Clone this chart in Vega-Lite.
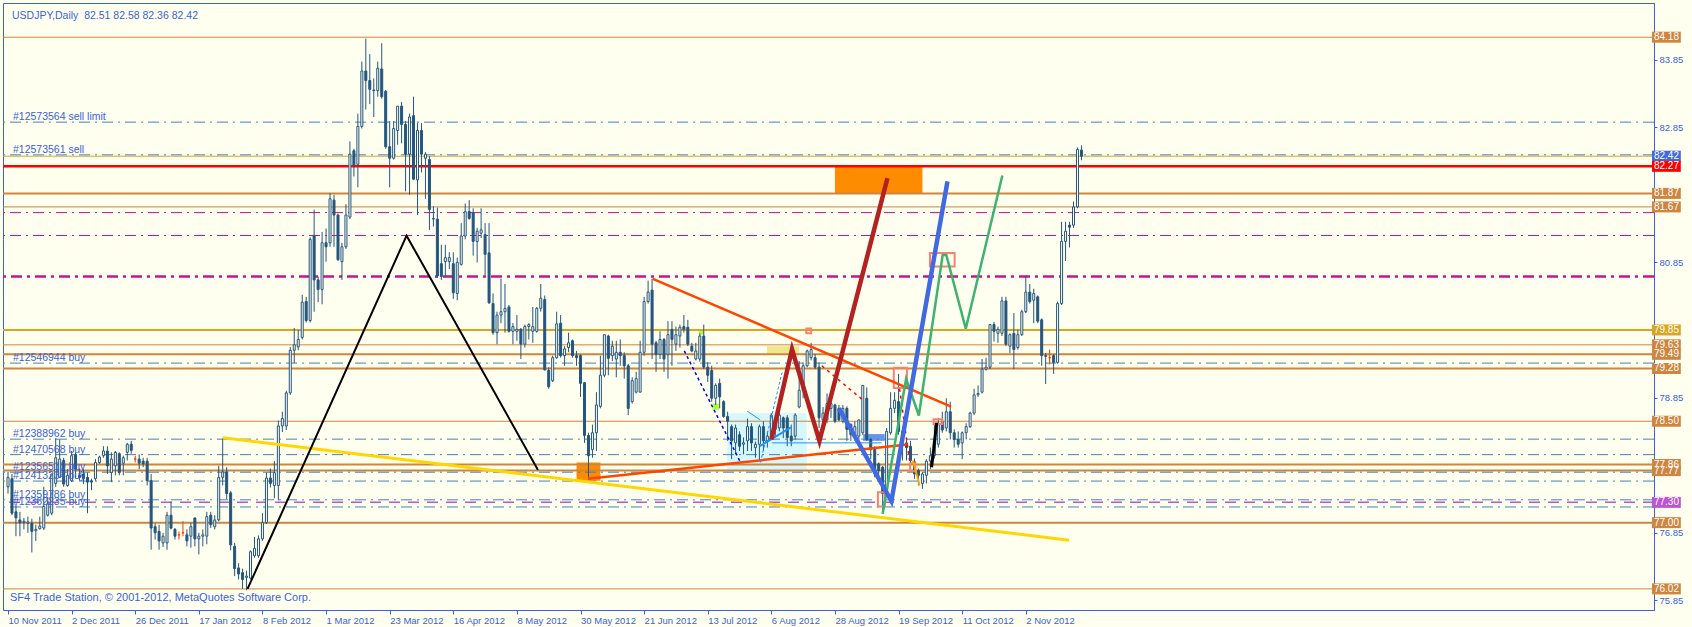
{
"$schema": "https://vega.github.io/schema/vega-lite/v6.json",
"width": 1651, "height": 607,
"autosize": {"type": "none"},
"padding": {"left": 3, "top": 3, "right": 38, "bottom": 17},
"datasets": {
"candles": [
{"i":0,"o":77.53,"h":77.75,"l":77.43,"c":77.67},{"i":1,"o":77.65,"h":77.72,"l":77.11,"c":77.14},{"i":2,"o":77.16,"h":77.28,"l":76.80,"c":77.07},{"i":3,"o":77.04,"h":77.16,"l":76.80,"c":77.00},{"i":4,"o":77.00,"h":77.07,"l":76.90,"c":77.02},{"i":5,"o":76.99,"h":77.09,"l":76.85,"c":77.01},{"i":6,"o":76.99,"h":77.06,"l":76.56,"c":76.87},{"i":7,"o":76.88,"h":76.97,"l":76.73,"c":76.90},{"i":8,"o":76.91,"h":77.09,"l":76.90,"c":76.95},{"i":9,"o":76.92,"h":77.53,"l":76.89,"c":77.24},
{"i":10,"o":77.11,"h":77.38,"l":77.09,"c":77.28},{"i":11,"o":77.14,"h":77.72,"l":77.11,"c":77.72},{"i":12,"o":77.58,"h":78.25,"l":77.53,"c":77.96},{"i":13,"o":77.67,"h":78.23,"l":77.67,"c":77.94},{"i":14,"o":77.92,"h":77.96,"l":77.53,"c":77.57},{"i":15,"o":77.55,"h":77.79,"l":77.53,"c":77.70},{"i":16,"o":77.62,"h":78.06,"l":77.60,"c":77.99},{"i":17,"o":78.01,"h":78.04,"l":77.65,"c":77.79},{"i":18,"o":77.70,"h":77.80,"l":77.62,"c":77.67},{"i":19,"o":77.72,"h":77.79,"l":77.57,"c":77.65},
{"i":20,"o":77.67,"h":77.74,"l":77.14,"c":77.60},{"i":21,"o":77.62,"h":77.65,"l":77.48,"c":77.60},{"i":22,"o":77.65,"h":77.94,"l":77.62,"c":77.89},{"i":23,"o":77.89,"h":77.99,"l":77.87,"c":77.97},{"i":24,"o":77.99,"h":78.13,"l":77.96,"c":78.06},{"i":25,"o":78.06,"h":78.13,"l":77.72,"c":77.84},{"i":26,"o":77.74,"h":78.04,"l":77.60,"c":77.94},{"i":27,"o":77.84,"h":78.06,"l":77.70,"c":78.04},{"i":28,"o":78.02,"h":78.04,"l":77.70,"c":77.74},{"i":29,"o":77.88,"h":77.99,"l":77.70,"c":77.96},
{"i":30,"o":78.04,"h":78.18,"l":77.92,"c":78.16},{"i":31,"o":78.16,"h":78.21,"l":78.02,"c":78.07},{"i":32,"o":77.94,"h":77.99,"l":77.89,"c":77.94},{"i":33,"o":77.94,"h":78.01,"l":77.79,"c":77.88},{"i":34,"o":77.91,"h":77.96,"l":77.82,"c":77.87},{"i":35,"o":77.91,"h":77.96,"l":77.55,"c":77.62},{"i":36,"o":77.62,"h":77.72,"l":76.60,"c":76.92},{"i":37,"o":76.94,"h":76.99,"l":76.75,"c":76.85},{"i":38,"o":76.87,"h":76.97,"l":76.60,"c":76.73},{"i":39,"o":76.70,"h":76.85,"l":76.64,"c":76.80},
{"i":40,"o":76.70,"h":77.16,"l":76.60,"c":77.11},{"i":41,"o":77.11,"h":77.31,"l":76.90,"c":76.92},{"i":42,"o":76.90,"h":76.92,"l":76.75,"c":76.80},{"i":43,"o":76.82,"h":76.87,"l":76.75,"c":76.82},{"i":44,"o":76.85,"h":77.02,"l":76.80,"c":76.85},{"i":45,"o":76.82,"h":76.90,"l":76.65,"c":76.73},{"i":46,"o":76.80,"h":77.00,"l":76.63,"c":76.94},{"i":47,"o":77.07,"h":77.07,"l":76.65,"c":76.76},{"i":48,"o":76.76,"h":76.85,"l":76.53,"c":76.80},{"i":49,"o":76.80,"h":76.90,"l":76.65,"c":76.82},
{"i":50,"o":76.80,"h":77.16,"l":76.68,"c":77.09},{"i":51,"o":77.11,"h":77.16,"l":76.92,"c":76.97},{"i":52,"o":76.94,"h":77.11,"l":76.90,"c":77.04},{"i":53,"o":77.04,"h":77.84,"l":77.02,"c":77.67},{"i":54,"o":77.67,"h":78.25,"l":77.55,"c":77.75},{"i":55,"o":77.75,"h":77.82,"l":77.35,"c":77.43},{"i":56,"o":77.44,"h":77.47,"l":76.59,"c":76.67},{"i":57,"o":76.65,"h":76.70,"l":76.21,"c":76.32},{"i":58,"o":76.33,"h":76.40,"l":76.16,"c":76.24},{"i":59,"o":76.26,"h":76.32,"l":76.02,"c":76.16},
{"i":60,"o":76.19,"h":76.29,"l":76.00,"c":76.21},{"i":61,"o":76.18,"h":76.59,"l":76.16,"c":76.57},{"i":62,"o":76.51,"h":76.79,"l":76.48,"c":76.62},{"i":63,"o":76.51,"h":76.81,"l":76.48,"c":76.76},{"i":64,"o":76.76,"h":77.14,"l":76.73,"c":77.00},{"i":65,"o":77.00,"h":77.74,"l":76.98,"c":77.66},{"i":66,"o":77.66,"h":77.80,"l":77.52,"c":77.58},{"i":67,"o":77.55,"h":77.91,"l":77.36,"c":77.74},{"i":68,"o":77.55,"h":78.51,"l":77.33,"c":78.43},{"i":69,"o":78.43,"h":78.64,"l":78.34,"c":78.54},
{"i":70,"o":78.43,"h":78.95,"l":78.37,"c":78.92},{"i":71,"o":78.92,"h":79.60,"l":78.89,"c":79.55},{"i":72,"o":79.55,"h":79.88,"l":79.36,"c":79.63},{"i":73,"o":79.60,"h":79.85,"l":79.55,"c":79.71},{"i":74,"o":79.74,"h":80.37,"l":79.71,"c":80.26},{"i":75,"o":80.27,"h":80.34,"l":79.96,"c":79.99},{"i":76,"o":79.99,"h":81.22,"l":79.96,"c":81.19},{"i":77,"o":81.25,"h":81.63,"l":80.12,"c":80.59},{"i":78,"o":80.59,"h":80.64,"l":80.26,"c":80.45},{"i":79,"o":80.45,"h":81.30,"l":80.23,"c":81.14},
{"i":80,"o":81.14,"h":81.35,"l":80.86,"c":81.08},{"i":81,"o":81.14,"h":81.87,"l":81.08,"c":81.79},{"i":82,"o":81.77,"h":81.85,"l":81.08,"c":81.55},{"i":83,"o":81.55,"h":81.57,"l":80.87,"c":80.89},{"i":84,"o":80.86,"h":81.14,"l":80.59,"c":81.08},{"i":85,"o":81.08,"h":81.71,"l":81.05,"c":81.55},{"i":86,"o":81.52,"h":82.64,"l":81.49,"c":82.45},{"i":87,"o":82.50,"h":82.53,"l":82.12,"c":82.29},{"i":88,"o":82.30,"h":83.05,"l":81.96,"c":82.86},{"i":89,"o":82.86,"h":83.82,"l":82.83,"c":83.68},
{"i":90,"o":83.68,"h":84.16,"l":83.11,"c":83.54},{"i":91,"o":83.54,"h":83.93,"l":83.19,"c":83.41},{"i":92,"o":83.39,"h":83.57,"l":83.00,"c":83.40},{"i":93,"o":83.39,"h":83.82,"l":83.30,"c":83.72},{"i":94,"o":83.71,"h":84.09,"l":83.27,"c":83.30},{"i":95,"o":83.38,"h":83.40,"l":82.53,"c":82.56},{"i":96,"o":82.56,"h":82.94,"l":81.96,"c":82.39},{"i":97,"o":82.39,"h":82.94,"l":82.37,"c":82.83},{"i":98,"o":82.80,"h":83.16,"l":82.59,"c":83.16},{"i":99,"o":83.16,"h":83.22,"l":82.61,"c":82.89},
{"i":100,"o":82.89,"h":82.94,"l":81.90,"c":82.45},{"i":101,"o":82.45,"h":83.05,"l":81.85,"c":83.00},{"i":102,"o":83.02,"h":83.30,"l":82.07,"c":82.08},{"i":103,"o":82.07,"h":82.91,"l":81.55,"c":82.80},{"i":104,"o":82.80,"h":82.91,"l":82.18,"c":82.45},{"i":105,"o":82.39,"h":82.48,"l":81.79,"c":82.45},{"i":106,"o":82.37,"h":82.42,"l":81.33,"c":81.63},{"i":107,"o":81.49,"h":81.68,"l":81.38,"c":81.50},{"i":108,"o":81.49,"h":81.66,"l":80.62,"c":80.65},{"i":109,"o":80.83,"h":81.11,"l":80.59,"c":80.64},
{"i":110,"o":80.86,"h":81.11,"l":80.64,"c":80.92},{"i":111,"o":80.86,"h":81.00,"l":80.75,"c":80.92},{"i":112,"o":80.83,"h":81.00,"l":80.31,"c":80.40},{"i":113,"o":80.39,"h":80.92,"l":80.29,"c":80.85},{"i":114,"o":80.82,"h":81.43,"l":80.80,"c":81.24},{"i":115,"o":81.24,"h":81.72,"l":81.19,"c":81.60},{"i":116,"o":81.60,"h":81.77,"l":81.48,"c":81.50},{"i":117,"o":81.58,"h":81.65,"l":80.95,"c":81.16},{"i":118,"o":81.16,"h":81.36,"l":80.85,"c":81.31},{"i":119,"o":81.28,"h":81.65,"l":81.21,"c":81.33},
{"i":120,"o":81.26,"h":81.43,"l":80.66,"c":80.97},{"i":121,"o":80.99,"h":81.43,"l":80.24,"c":80.25},{"i":122,"o":80.24,"h":80.39,"l":79.78,"c":79.81},{"i":123,"o":79.81,"h":80.12,"l":79.64,"c":80.07},{"i":124,"o":80.07,"h":80.61,"l":79.95,"c":80.12},{"i":125,"o":80.12,"h":80.53,"l":79.81,"c":80.17},{"i":126,"o":80.19,"h":80.22,"l":79.81,"c":79.83},{"i":127,"o":79.83,"h":79.95,"l":79.64,"c":79.90},{"i":128,"o":79.83,"h":80.07,"l":79.69,"c":79.86},{"i":129,"o":79.86,"h":79.88,"l":79.42,"c":79.64},
{"i":130,"o":79.64,"h":79.93,"l":79.59,"c":79.90},{"i":131,"o":79.90,"h":79.95,"l":79.71,"c":79.93},{"i":132,"o":79.83,"h":80.19,"l":79.66,"c":79.90},{"i":133,"o":79.83,"h":80.19,"l":79.81,"c":80.17},{"i":134,"o":80.17,"h":80.53,"l":80.12,"c":80.32},{"i":135,"o":80.30,"h":80.36,"l":79.25,"c":79.26},{"i":136,"o":79.25,"h":79.30,"l":78.98,"c":79.01},{"i":137,"o":79.10,"h":79.47,"l":79.08,"c":79.44},{"i":138,"o":79.44,"h":80.12,"l":79.42,"c":79.94},{"i":139,"o":79.95,"h":80.07,"l":79.44,"c":79.47},
{"i":140,"o":79.47,"h":79.61,"l":79.32,"c":79.57},{"i":141,"o":79.59,"h":79.81,"l":79.52,"c":79.66},{"i":142,"o":79.69,"h":79.71,"l":79.44,"c":79.47},{"i":143,"o":79.47,"h":79.54,"l":79.32,"c":79.44},{"i":144,"o":79.47,"h":79.49,"l":78.86,"c":79.06},{"i":145,"o":79.07,"h":79.08,"l":78.18,"c":78.29},{"i":146,"o":78.29,"h":78.33,"l":77.67,"c":77.99},{"i":147,"o":78.08,"h":78.45,"l":77.96,"c":78.33},{"i":148,"o":78.33,"h":78.93,"l":78.06,"c":78.74},{"i":149,"o":78.72,"h":79.47,"l":78.69,"c":79.18},
{"i":150,"o":79.18,"h":79.78,"l":79.15,"c":79.78},{"i":151,"o":79.76,"h":79.78,"l":79.18,"c":79.43},{"i":152,"o":79.47,"h":79.69,"l":79.39,"c":79.61},{"i":153,"o":79.42,"h":79.69,"l":79.15,"c":79.52},{"i":154,"o":79.52,"h":79.71,"l":79.32,"c":79.47},{"i":155,"o":79.47,"h":79.52,"l":79.13,"c":79.32},{"i":156,"o":79.32,"h":79.35,"l":78.59,"c":78.69},{"i":157,"o":78.79,"h":79.15,"l":78.76,"c":79.10},{"i":158,"o":78.93,"h":79.23,"l":78.91,"c":79.13},{"i":159,"o":78.93,"h":79.69,"l":78.93,"c":79.52},
{"i":160,"o":79.52,"h":80.34,"l":79.47,"c":80.27},{"i":161,"o":80.27,"h":80.58,"l":80.24,"c":80.41},{"i":162,"o":80.44,"h":80.61,"l":79.42,"c":79.64},{"i":163,"o":79.66,"h":79.69,"l":79.23,"c":79.49},{"i":164,"o":79.49,"h":79.83,"l":79.42,"c":79.71},{"i":165,"o":79.71,"h":79.73,"l":79.23,"c":79.42},{"i":166,"o":79.49,"h":79.98,"l":79.13,"c":79.78},{"i":167,"o":79.86,"h":79.98,"l":79.32,"c":79.71},{"i":168,"o":79.64,"h":79.90,"l":79.54,"c":79.78},{"i":169,"o":79.76,"h":79.93,"l":79.59,"c":79.89},
{"i":170,"o":79.90,"h":80.07,"l":79.81,"c":79.86},{"i":171,"o":79.89,"h":80.00,"l":79.61,"c":79.64},{"i":172,"o":79.61,"h":79.66,"l":79.52,"c":79.54},{"i":173,"o":79.42,"h":79.66,"l":79.40,"c":79.54},{"i":174,"o":79.42,"h":79.80,"l":79.38,"c":79.76},{"i":175,"o":79.76,"h":79.93,"l":79.27,"c":79.30},{"i":176,"o":79.30,"h":79.37,"l":79.08,"c":79.18},{"i":177,"o":79.25,"h":79.32,"l":78.79,"c":78.84},{"i":178,"o":78.84,"h":79.06,"l":78.74,"c":79.03},{"i":179,"o":79.06,"h":79.13,"l":78.69,"c":78.86},
{"i":180,"o":78.79,"h":78.81,"l":78.55,"c":78.57},{"i":181,"o":78.57,"h":78.64,"l":78.21,"c":78.50},{"i":182,"o":78.42,"h":78.45,"l":77.94,"c":78.21},{"i":183,"o":78.18,"h":78.45,"l":78.01,"c":78.40},{"i":184,"o":78.30,"h":78.35,"l":78.06,"c":78.13},{"i":185,"o":78.16,"h":78.26,"l":78.01,"c":78.18},{"i":186,"o":78.21,"h":78.54,"l":78.06,"c":78.42},{"i":187,"o":78.42,"h":78.47,"l":78.06,"c":78.18},{"i":188,"o":78.11,"h":78.20,"l":77.96,"c":78.16},{"i":189,"o":78.16,"h":78.45,"l":77.91,"c":78.42},
{"i":190,"o":78.42,"h":78.50,"l":78.06,"c":78.21},{"i":191,"o":78.21,"h":78.35,"l":78.11,"c":78.28},{"i":192,"o":78.26,"h":78.62,"l":78.23,"c":78.59},{"i":193,"o":78.38,"h":78.52,"l":78.26,"c":78.50},{"i":194,"o":78.40,"h":78.69,"l":78.35,"c":78.59},{"i":195,"o":78.55,"h":78.57,"l":78.25,"c":78.40},{"i":196,"o":78.55,"h":78.59,"l":78.13,"c":78.26},{"i":197,"o":78.28,"h":78.45,"l":78.13,"c":78.21},{"i":198,"o":78.28,"h":78.62,"l":78.23,"c":78.59},{"i":199,"o":78.71,"h":79.39,"l":78.69,"c":78.96},
{"i":200,"o":78.96,"h":79.37,"l":78.84,"c":79.32},{"i":201,"o":79.32,"h":79.56,"l":79.30,"c":79.54},{"i":202,"o":79.44,"h":79.66,"l":79.40,"c":79.56},{"i":203,"o":79.44,"h":79.49,"l":79.27,"c":79.30},{"i":204,"o":79.30,"h":79.37,"l":78.40,"c":78.55},{"i":205,"o":78.52,"h":78.71,"l":78.45,"c":78.62},{"i":206,"o":78.52,"h":78.91,"l":78.47,"c":78.76},{"i":207,"o":78.69,"h":78.79,"l":78.55,"c":78.76},{"i":208,"o":78.74,"h":78.76,"l":78.47,"c":78.50},{"i":209,"o":78.69,"h":78.74,"l":78.50,"c":78.52},
{"i":210,"o":78.50,"h":78.74,"l":78.47,"c":78.69},{"i":211,"o":78.69,"h":78.72,"l":78.21,"c":78.38},{"i":212,"o":78.45,"h":78.47,"l":78.21,"c":78.30},{"i":213,"o":78.26,"h":78.50,"l":78.21,"c":78.42},{"i":214,"o":78.28,"h":78.52,"l":78.21,"c":78.52},{"i":215,"o":78.33,"h":79.03,"l":78.30,"c":79.03},{"i":216,"o":78.84,"h":79.00,"l":78.21,"c":78.23},{"i":217,"o":78.23,"h":78.25,"l":77.94,"c":78.08},{"i":218,"o":78.11,"h":78.13,"l":77.67,"c":77.72},{"i":219,"o":77.87,"h":77.89,"l":77.67,"c":77.77},
{"i":220,"o":77.82,"h":77.84,"l":77.14,"c":77.43},{"i":221,"o":77.45,"h":78.40,"l":77.40,"c":78.35},{"i":222,"o":78.33,"h":78.93,"l":78.30,"c":78.69},{"i":223,"o":78.69,"h":78.93,"l":78.62,"c":78.81},{"i":224,"o":78.79,"h":79.20,"l":78.30,"c":78.35},{"i":225,"o":78.35,"h":78.42,"l":77.92,"c":78.18},{"i":226,"o":78.18,"h":78.23,"l":77.92,"c":78.11},{"i":227,"o":78.13,"h":78.21,"l":77.87,"c":77.92},{"i":228,"o":77.90,"h":77.95,"l":77.65,"c":77.72},{"i":229,"o":77.77,"h":77.80,"l":77.55,"c":77.70},
{"i":230,"o":77.58,"h":77.75,"l":77.50,"c":77.72},{"i":231,"o":77.70,"h":77.94,"l":77.58,"c":77.91},{"i":232,"o":77.91,"h":78.11,"l":77.79,"c":77.99},{"i":233,"o":77.99,"h":78.47,"l":77.95,"c":78.21},{"i":234,"o":78.16,"h":78.55,"l":78.11,"c":78.45},{"i":235,"o":78.50,"h":78.64,"l":78.33,"c":78.37},{"i":236,"o":78.40,"h":78.84,"l":78.35,"c":78.64},{"i":237,"o":78.64,"h":78.79,"l":78.23,"c":78.33},{"i":238,"o":78.33,"h":78.38,"l":78.11,"c":78.23},{"i":239,"o":78.23,"h":78.35,"l":78.11,"c":78.16},
{"i":240,"o":78.18,"h":78.35,"l":77.94,"c":78.33},{"i":241,"o":78.33,"h":78.47,"l":78.23,"c":78.42},{"i":242,"o":78.42,"h":78.64,"l":78.40,"c":78.62},{"i":243,"o":78.62,"h":78.98,"l":78.59,"c":78.89},{"i":244,"o":78.89,"h":79.03,"l":78.86,"c":78.91},{"i":245,"o":78.93,"h":79.42,"l":78.91,"c":79.27},{"i":246,"o":79.27,"h":79.44,"l":79.25,"c":79.30},{"i":247,"o":79.30,"h":79.93,"l":79.27,"c":79.93},{"i":248,"o":79.93,"h":79.97,"l":79.68,"c":79.83},{"i":249,"o":79.80,"h":79.90,"l":79.66,"c":79.86},
{"i":250,"o":79.80,"h":80.34,"l":79.76,"c":80.28},{"i":251,"o":80.28,"h":80.34,"l":79.61,"c":79.64},{"i":252,"o":79.61,"h":79.80,"l":79.51,"c":79.78},{"i":253,"o":79.80,"h":80.10,"l":79.27,"c":79.56},{"i":254,"o":79.59,"h":79.85,"l":79.56,"c":79.78},{"i":255,"o":79.78,"h":80.15,"l":79.76,"c":80.12},{"i":256,"o":80.12,"h":80.65,"l":80.10,"c":80.41},{"i":257,"o":80.41,"h":80.53,"l":80.24,"c":80.27},{"i":258,"o":80.29,"h":80.46,"l":79.95,"c":80.39},{"i":259,"o":80.34,"h":80.36,"l":79.95,"c":79.98},
{"i":260,"o":80.00,"h":80.02,"l":79.32,"c":79.47},{"i":261,"o":79.47,"h":79.51,"l":79.05,"c":79.46},{"i":262,"o":79.44,"h":79.56,"l":79.34,"c":79.44},{"i":263,"o":79.47,"h":79.49,"l":79.20,"c":79.37},{"i":264,"o":79.37,"h":80.27,"l":79.35,"c":80.24},{"i":265,"o":80.24,"h":81.45,"l":80.22,"c":81.16},{"i":266,"o":81.16,"h":81.45,"l":80.87,"c":81.31},{"i":267,"o":81.40,"h":81.45,"l":81.07,"c":81.37},{"i":268,"o":81.40,"h":81.75,"l":81.36,"c":81.67},{"i":269,"o":81.67,"h":82.55,"l":81.65,"c":82.52},
{"i":270,"o":82.51,"h":82.58,"l":82.36,"c":82.42}
],
"levels": [
{"p":84.18,"k":"lv1"},{"p":81.87,"k":"lv2"},{"p":81.67,"k":"lv1"},{"p":79.63,"k":"lv1"},{"p":79.49,"k":"lv2"},{"p":79.28,"k":"lv2"},{"p":78.50,"k":"lv1"},{"p":77.86,"k":"lv2"},{"p":77.77,"k":"lv2"},{"p":77.00,"k":"lv2"},{"p":76.02,"k":"lv1"},
{"p":82.42,"k":"gd1"},{"p":79.85,"k":"gd2"},{"p":82.27,"k":"red"},{"p":77.30,"k":"pur"},
{"p":81.586,"k":"mg1"},{"p":81.247,"k":"mg1"},{"p":80.64,"k":"mg3"},
{"p":82.924,"k":"ord","t":"#12573564 sell limit"},{"p":82.44,"k":"ord","t":"#12573561 sell"},{"p":79.36,"k":"ord","t":"#12546944 buy"},{"p":78.235,"k":"ord","t":"#12388962 buy"},{"p":78.006,"k":"ord","t":"#12470568 buy"},{"p":77.746,"k":"ord","t":"#12356510 buy"},{"p":77.615,"k":"ord","t":"#12413234 buy"},{"p":77.338,"k":"ord","t":"#12359786 buy"},{"p":77.232,"k":"ord","t":"#12362235 buy"}
],
"tags": [
{"p":84.18,"k":"lv"},{"p":82.42,"k":"bid"},{"p":82.27,"k":"red"},{"p":81.87,"k":"lv"},{"p":81.67,"k":"lv"},{"p":79.85,"k":"gd"},{"p":79.63,"k":"lv"},{"p":79.49,"k":"lv"},{"p":79.28,"k":"lv"},{"p":78.50,"k":"lv"},{"p":77.86,"k":"lv"},{"p":77.77,"k":"lv"},{"p":77.30,"k":"pur"},{"p":77.00,"k":"lv"},{"p":76.02,"k":"lv"}
],
"boxes": [
{"k":"cyan","x1":180.9,"x2":200.9,"p1":77.77,"p2":78.618},
{"k":"khaki","x1":190.9,"x2":199,"p1":79.49,"p2":79.61},
{"k":"orange","x1":208,"x2":230,"p1":81.87,"p2":82.27},
{"k":"orange","x1":143,"x2":149,"p1":77.62,"p2":77.89},
{"k":"ygreen","x1":173.8,"x2":175,"p1":79.78,"p2":79.85},
{"k":"ygreen","x1":177.2,"x2":178.8,"p1":78.67,"p2":78.76},
{"k":"cfl","x1":215.1,"x2":220.5,"p1":78.21,"p2":78.31},
{"k":"salmon","x1":231.9,"x2":238.1,"p1":80.79,"p2":80.99},
{"k":"salmon","x1":222.8,"x2":226.1,"p1":78.99,"p2":79.29},
{"k":"salmon","x1":200.8,"x2":202,"p1":79.80,"p2":79.87},
{"k":"salmon","x1":232.8,"x2":235,"p1":78.46,"p2":78.53},
{"k":"salmon","x1":218.8,"x2":220.5,"p1":77.24,"p2":77.45},
{"k":"salmon","x1":226.9,"x2":228.2,"p1":77.76,"p2":77.88}
],
"lines": [
{"g":"blk","s":"a","i":60.25,"p":76.02},{"g":"blk","s":"a","i":100.25,"p":81.245},{"g":"blk","s":"a","i":133.3,"p":77.78},
{"g":"yel","s":"a","i":54,"p":78.255},{"g":"yel","s":"a","i":266.9,"p":76.74},
{"g":"orr","s":"a","i":162.2,"p":80.607},{"g":"orr","s":"a","i":237.2,"p":78.716},
{"g":"orr","s":"b","i":145.9,"p":77.648},{"g":"orr","s":"b","i":226.3,"p":78.157},
{"g":"fbr","s":"a","i":192,"p":78.23},{"g":"fbr","s":"a","i":197.2,"p":79.564},{"g":"fbr","s":"a","i":204.1,"p":78.21},{"g":"fbr","s":"a","i":221.2,"p":82.095},
{"g":"rbl","s":"a","i":209,"p":78.69},{"g":"rbl","s":"a","i":222.2,"p":77.32},{"g":"rbl","s":"a","i":236.3,"p":82.047},
{"g":"grn","s":"a","i":220,"p":77.13},{"g":"grn","s":"a","i":225.9,"p":79.127},{"g":"grn","s":"a","i":229.1,"p":78.585},{"g":"grn","s":"a","i":235.1,"p":80.96},{"g":"grn","s":"a","i":236,"p":80.96},{"g":"grn","s":"a","i":240.9,"p":79.869},{"g":"grn","s":"a","i":250.1,"p":82.134},
{"g":"blk3","s":"a","i":232.3,"p":77.82},{"g":"blk3","s":"a","i":233.6,"p":78.48},
{"g":"org","s":"a","i":227.6,"p":77.92},{"g":"org","s":"a","i":229.3,"p":77.55},
{"g":"dblue","s":"a","i":170.1,"p":79.54},{"g":"dblue","s":"a","i":184.25,"p":77.89},
{"g":"dodg","s":"a","i":185.9,"p":78.65},{"g":"dodg","s":"a","i":189.2,"p":78.52},
{"g":"dodgd","s":"a","i":189.25,"p":77.89},{"g":"dodgd","s":"a","i":194.7,"p":79.22},
{"g":"dodgb","s":"a","i":189.1,"p":78.13},{"g":"dodgb","s":"a","i":196.9,"p":78.41},
{"g":"cfl","s":"a","i":192.2,"p":78.18},{"g":"cfl","s":"a","i":219.7,"p":78.18},
{"g":"rdot","s":"a","i":204.7,"p":79.32},{"g":"rdot","s":"a","i":215.5,"p":78.79},
{"g":"rdot","s":"b","i":224.25,"p":78.98},{"g":"rdot","s":"b","i":226.75,"p":77.92}
]
},
"layer": [
{"data":{"name":"boxes"},"transform":[{"filter":"datum.k != 'salmon'"}],
 "mark":{"type":"rect"},
 "encoding":{
  "x":{"field":"x1","type":"quantitative","scale":{"domain":[0,412.75],"nice":false,"zero":false}},
  "x2":{"field":"x2"},
  "y":{"field":"p1","type":"quantitative","scale":{"domain":[75.782,84.612],"nice":false,"zero":false}},
  "y2":{"field":"p2"},
  "color":{"field":"k","type":"nominal","legend":null,"scale":{"domain":["cyan","khaki","orange","ygreen","cfl"],"range":["#D6F7FB","#F0E68C","#FF8C00","#ADFF2F","#6495ED"]}}
 }},
{"data":{"name":"levels"},"transform":[{"filter":"datum.k == 'lv1'"}],"mark":{"type":"rule","color":"#CD853F","strokeWidth":1},
 "encoding":{"y":{"field":"p","type":"quantitative","scale":{"domain":[75.782,84.612],"nice":false,"zero":false}}}},
{"data":{"name":"levels"},"transform":[{"filter":"datum.k == 'lv2'"}],"mark":{"type":"rule","color":"#CD853F","strokeWidth":2},
 "encoding":{"y":{"field":"p","type":"quantitative","scale":{"domain":[75.782,84.612],"nice":false,"zero":false}}}},
{"data":{"name":"levels"},"transform":[{"filter":"datum.k == 'gd1'"}],"mark":{"type":"rule","color":"#DAA520","strokeWidth":1},
 "encoding":{"y":{"field":"p","type":"quantitative","scale":{"domain":[75.782,84.612],"nice":false,"zero":false}}}},
{"data":{"name":"levels"},"transform":[{"filter":"datum.k == 'gd2'"}],"mark":{"type":"rule","color":"#DAA520","strokeWidth":2},
 "encoding":{"y":{"field":"p","type":"quantitative","scale":{"domain":[75.782,84.612],"nice":false,"zero":false}}}},
{"data":{"name":"levels"},"transform":[{"filter":"datum.k == 'red'"}],"mark":{"type":"rule","color":"#FF0000","strokeWidth":2.5},
 "encoding":{"y":{"field":"p","type":"quantitative","scale":{"domain":[75.782,84.612],"nice":false,"zero":false}}}},
{"data":{"name":"levels"},"transform":[{"filter":"datum.k == 'pur'"}],"mark":{"type":"rule","color":"#BA55D3","strokeWidth":1.5,"strokeDash":[11,8]},
 "encoding":{"y":{"field":"p","type":"quantitative","scale":{"domain":[75.782,84.612],"nice":false,"zero":false}}}},
{"data":{"name":"levels"},"transform":[{"filter":"datum.k == 'mg1'"}],"mark":{"type":"rule","color":"#C71585","strokeWidth":1,"strokeDash":[11,5,2,5]},
 "encoding":{"y":{"field":"p","type":"quantitative","scale":{"domain":[75.782,84.612],"nice":false,"zero":false}}}},
{"data":{"name":"levels"},"transform":[{"filter":"datum.k == 'mg3'"}],"mark":{"type":"rule","color":"#C71585","strokeWidth":2.5,"strokeDash":[11,5,3,5]},
 "encoding":{"y":{"field":"p","type":"quantitative","scale":{"domain":[75.782,84.612],"nice":false,"zero":false}}}},
{"data":{"name":"levels"},"transform":[{"filter":"datum.k == 'ord'"}],"mark":{"type":"rule","color":"#4682B4","strokeWidth":1,"strokeDash":[11,5,2,5]},
 "encoding":{"y":{"field":"p","type":"quantitative","scale":{"domain":[75.782,84.612],"nice":false,"zero":false}}}},
{"data":{"name":"candles"},"mark":{"type":"rule","strokeWidth":1},
 "encoding":{
  "x":{"field":"i","type":"quantitative","scale":{"domain":[0,412.75],"nice":false,"zero":false},
   "axis":{"orient":"bottom","values":[0,16,32,48,64,80,96,112,128,144,160,176,192,208,224,240,256],
    "labelExpr":"['10 Nov 2011','2 Dec 2011','26 Dec 2011','17 Jan 2012','8 Feb 2012','1 Mar 2012','23 Mar 2012','16 Apr 2012','8 May 2012','30 May 2012','21 Jun 2012','13 Jul 2012','6 Aug 2012','28 Aug 2012','19 Sep 2012','11 Oct 2012','2 Nov 2012'][round(datum.value/16)]",
    "title":null,"grid":false,"tickSize":4,"labelFontSize":9.5,"labelAlign":"left","labelBaseline":"top","labelPadding":1,"labelOverlap":false,"labelFlush":false,"labelBound":false}},
  "y":{"field":"l","type":"quantitative","scale":{"domain":[75.782,84.612],"nice":false,"zero":false},
   "axis":{"orient":"right","values":[75.85,76.35,76.85,77.35,77.85,78.35,78.85,79.35,79.85,80.35,80.85,81.35,81.85,82.35,82.85,83.35,83.85,84.35],
    "labelExpr":"indexof([77.85,79.85,81.85,82.35], round(datum.value*100)/100) >= 0 ? '' : format(datum.value, '.2f')",
    "title":null,"grid":false,"tickSize":3,"labelFontSize":9.5,"labelAlign":"left","labelBaseline":"middle","labelPadding":2,"labelOverlap":false,"labelFlush":false,"labelBound":false}},
  "y2":{"field":"h"},
  "color":{"condition":{"test":"datum.o == datum.c","value":"#FF3300"},"value":"#24567f"}
 }},
{"data":{"name":"candles"},"mark":{"type":"bar","orient":"vertical","strokeWidth":1},
 "encoding":{
  "x":{"field":"i","type":"quantitative","scale":{"domain":[0,412.75],"nice":false,"zero":false}},
  "y":{"field":"o","type":"quantitative","scale":{"domain":[75.782,84.612],"nice":false,"zero":false}},
  "y2":{"field":"c"},
  "size":{"value":2},
  "fill":{"condition":{"test":"datum.c < datum.o","value":"#24567f"},"value":"#FFFFF0"},
  "stroke":{"condition":{"test":"datum.o == datum.c","value":"#FF3300"},"value":"#24567f"}
 }},
{"data":{"name":"boxes"},"transform":[{"filter":"datum.k == 'salmon'"}],
 "mark":{"type":"rect","fillOpacity":0,"stroke":"#FA8072","strokeWidth":2},
 "encoding":{
  "x":{"field":"x1","type":"quantitative","scale":{"domain":[0,412.75],"nice":false,"zero":false}},
  "x2":{"field":"x2"},
  "y":{"field":"p1","type":"quantitative","scale":{"domain":[75.782,84.612],"nice":false,"zero":false}},
  "y2":{"field":"p2"}
 }},
{"data":{"name":"lines"},"transform":[{"filter":"datum.g == 'yel'"}],"mark":{"type":"line","color":"#FFD700","strokeWidth":3},
 "encoding":{"x":{"field":"i","type":"quantitative","scale":{"domain":[0,412.75],"nice":false,"zero":false}},"y":{"field":"p","type":"quantitative","scale":{"domain":[75.782,84.612],"nice":false,"zero":false}},"detail":{"field":"s"}}},
{"data":{"name":"lines"},"transform":[{"filter":"datum.g == 'blk'"}],"mark":{"type":"line","color":"#000000","strokeWidth":2},
 "encoding":{"x":{"field":"i","type":"quantitative","scale":{"domain":[0,412.75],"nice":false,"zero":false}},"y":{"field":"p","type":"quantitative","scale":{"domain":[75.782,84.612],"nice":false,"zero":false}},"detail":{"field":"s"}}},
{"data":{"name":"lines"},"transform":[{"filter":"datum.g == 'orr'"}],"mark":{"type":"line","color":"#FF4500","strokeWidth":2.5},
 "encoding":{"x":{"field":"i","type":"quantitative","scale":{"domain":[0,412.75],"nice":false,"zero":false}},"y":{"field":"p","type":"quantitative","scale":{"domain":[75.782,84.612],"nice":false,"zero":false}},"detail":{"field":"s"}}},
{"data":{"name":"lines"},"transform":[{"filter":"datum.g == 'dblue'"}],"mark":{"type":"line","color":"#0000FF","strokeWidth":1.5,"strokeDash":[3,3]},
 "encoding":{"x":{"field":"i","type":"quantitative","scale":{"domain":[0,412.75],"nice":false,"zero":false}},"y":{"field":"p","type":"quantitative","scale":{"domain":[75.782,84.612],"nice":false,"zero":false}},"detail":{"field":"s"}}},
{"data":{"name":"lines"},"transform":[{"filter":"datum.g == 'dodg' || datum.g == 'cfl'"}],"mark":{"type":"line","color":"#1E90FF","strokeWidth":1},
 "encoding":{"x":{"field":"i","type":"quantitative","scale":{"domain":[0,412.75],"nice":false,"zero":false}},"y":{"field":"p","type":"quantitative","scale":{"domain":[75.782,84.612],"nice":false,"zero":false}},"detail":{"field":"g"}}},
{"data":{"name":"lines"},"transform":[{"filter":"datum.g == 'dodgd'"}],"mark":{"type":"line","color":"#1E90FF","strokeWidth":1,"strokeDash":[3,2]},
 "encoding":{"x":{"field":"i","type":"quantitative","scale":{"domain":[0,412.75],"nice":false,"zero":false}},"y":{"field":"p","type":"quantitative","scale":{"domain":[75.782,84.612],"nice":false,"zero":false}},"detail":{"field":"s"}}},
{"data":{"name":"lines"},"transform":[{"filter":"datum.g == 'dodgb'"}],"mark":{"type":"line","color":"#1E90FF","strokeWidth":2},
 "encoding":{"x":{"field":"i","type":"quantitative","scale":{"domain":[0,412.75],"nice":false,"zero":false}},"y":{"field":"p","type":"quantitative","scale":{"domain":[75.782,84.612],"nice":false,"zero":false}},"detail":{"field":"s"}}},
{"data":{"name":"lines"},"transform":[{"filter":"datum.g == 'rdot'"}],"mark":{"type":"line","color":"#FF0000","strokeWidth":1.5,"strokeDash":[3,4]},
 "encoding":{"x":{"field":"i","type":"quantitative","scale":{"domain":[0,412.75],"nice":false,"zero":false}},"y":{"field":"p","type":"quantitative","scale":{"domain":[75.782,84.612],"nice":false,"zero":false}},"detail":{"field":"s"}}},
{"data":{"name":"lines"},"transform":[{"filter":"datum.g == 'fbr'"}],"mark":{"type":"line","color":"#B22222","strokeWidth":4.5},
 "encoding":{"x":{"field":"i","type":"quantitative","scale":{"domain":[0,412.75],"nice":false,"zero":false}},"y":{"field":"p","type":"quantitative","scale":{"domain":[75.782,84.612],"nice":false,"zero":false}},"detail":{"field":"s"}}},
{"data":{"name":"lines"},"transform":[{"filter":"datum.g == 'grn'"}],"mark":{"type":"line","color":"#3CB371","strokeWidth":2.5},
 "encoding":{"x":{"field":"i","type":"quantitative","scale":{"domain":[0,412.75],"nice":false,"zero":false}},"y":{"field":"p","type":"quantitative","scale":{"domain":[75.782,84.612],"nice":false,"zero":false}},"detail":{"field":"s"}}},
{"data":{"name":"lines"},"transform":[{"filter":"datum.g == 'rbl'"}],"mark":{"type":"line","color":"#4169E1","strokeWidth":4.5},
 "encoding":{"x":{"field":"i","type":"quantitative","scale":{"domain":[0,412.75],"nice":false,"zero":false}},"y":{"field":"p","type":"quantitative","scale":{"domain":[75.782,84.612],"nice":false,"zero":false}},"detail":{"field":"s"}}},
{"data":{"name":"lines"},"transform":[{"filter":"datum.g == 'blk3'"}],"mark":{"type":"line","color":"#000000","strokeWidth":3},
 "encoding":{"x":{"field":"i","type":"quantitative","scale":{"domain":[0,412.75],"nice":false,"zero":false}},"y":{"field":"p","type":"quantitative","scale":{"domain":[75.782,84.612],"nice":false,"zero":false}},"detail":{"field":"s"}}},
{"data":{"name":"lines"},"transform":[{"filter":"datum.g == 'org'"}],"mark":{"type":"line","color":"#FFA500","strokeWidth":2},
 "encoding":{"x":{"field":"i","type":"quantitative","scale":{"domain":[0,412.75],"nice":false,"zero":false}},"y":{"field":"p","type":"quantitative","scale":{"domain":[75.782,84.612],"nice":false,"zero":false}},"detail":{"field":"s"}}},
{"data":{"name":"levels"},"transform":[{"filter":"datum.k == 'ord'"}],
 "mark":{"type":"text","align":"left","baseline":"alphabetic","dy":-2,"font":"Liberation Sans","fontSize":10.5,"color":"#3a5fdf"},
 "encoding":{"x":{"datum":1.25,"type":"quantitative","scale":{"domain":[0,412.75],"nice":false,"zero":false}},"y":{"field":"p","type":"quantitative","scale":{"domain":[75.782,84.612],"nice":false,"zero":false}},"text":{"field":"t"}}},
{"data":{"name":"tags"},"mark":{"type":"bar","orient":"horizontal"},
 "encoding":{"x":{"datum":413.5,"type":"quantitative","scale":{"domain":[0,412.75],"nice":false,"zero":false}},"x2":{"datum":420.75},
  "y":{"field":"p","type":"quantitative","scale":{"domain":[75.782,84.612],"nice":false,"zero":false}},
  "size":{"value":11},
  "color":{"field":"k","type":"nominal","legend":null,"scale":{"domain":["lv","bid","red","gd","pur"],"range":["#CD853F","#4169E1","#FF0000","#DAA520","#BA55D3"]}}}},
{"data":{"name":"tags"},"mark":{"type":"text","align":"left","baseline":"middle","font":"Liberation Sans","fontSize":10,"color":"#FFFFFF"},
 "encoding":{"x":{"datum":414.0,"type":"quantitative","scale":{"domain":[0,412.75],"nice":false,"zero":false}},
  "y":{"field":"p","type":"quantitative","scale":{"domain":[75.782,84.612],"nice":false,"zero":false}},
  "text":{"field":"p","format":".2f"}}},
{"data":{"values":[{"t":"USDJPY,Daily\u00a0 82.51 82.58 82.36 82.42"}]},
 "mark":{"type":"text","align":"left","baseline":"middle","font":"Liberation Sans","fontSize":10.5,"color":"#3a5fdf"},
 "encoding":{"x":{"datum":1.0,"type":"quantitative","scale":{"domain":[0,412.75],"nice":false,"zero":false}},"y":{"datum":84.496,"type":"quantitative","scale":{"domain":[75.782,84.612],"nice":false,"zero":false}},"text":{"field":"t"}}},
{"data":{"values":[{"t":"SF4 Trade Station, © 2001-2012, MetaQuotes Software Corp."}]},
 "mark":{"type":"text","align":"left","baseline":"middle","font":"Liberation Sans","fontSize":11,"color":"#3a5fdf"},
 "encoding":{"x":{"datum":0.5,"type":"quantitative","scale":{"domain":[0,412.75],"nice":false,"zero":false}},"y":{"datum":75.888,"type":"quantitative","scale":{"domain":[75.782,84.612],"nice":false,"zero":false}},"text":{"field":"t"}}}
],
"resolve": {"scale": {"color": "independent"}},
"config": {"background": "#FFFFF0", "view": {"stroke": "#3a5fdf", "strokeWidth": 1},
 "axis": {"domainWidth": 1, "domainColor": "#3a5fdf", "tickColor": "#3a5fdf", "labelColor": "#3a5fdf", "labelFont": "Liberation Sans", "grid": false, "titleColor": "#3a5fdf"}}
}
